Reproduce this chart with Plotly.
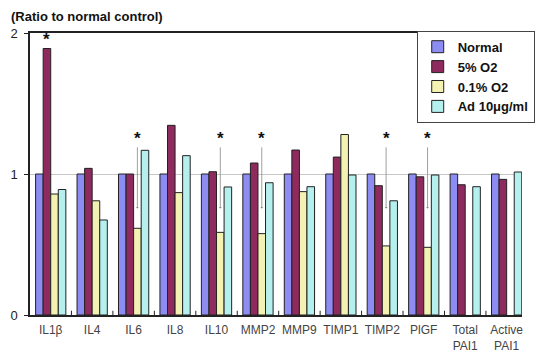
import plotly.graph_objects as go

categories = ["IL1β", "IL4", "IL6", "IL8", "IL10", "MMP2", "MMP9", "TIMP1",
              "TIMP2", "PlGF", "Total<br>PAI1", "Active<br>PAI1"]
normal = [1, 1, 1, 1, 1, 1, 1, 1, 1, 1, 1, 1]
o2_5 = [1.89, 1.04, 1.0, 1.345, 1.016, 1.078, 1.17, 1.12, 0.917, 0.98, 0.924, 0.962]
o2_01 = [0.858, 0.81, 0.615, 0.868, 0.586, 0.577, 0.875, 1.28, 0.49, 0.48, None, None]
ad10 = [0.89, 0.674, 1.168, 1.13, 0.908, 0.938, 0.91, 0.993, 0.81, 0.993, 0.91, 1.014]

series_names = ["Normal", "5% O2", "0.1% O2", "Ad 10μg/ml"]
series_vals = [normal, o2_5, o2_01, ad10]
colors = ["#8C8CF2", "#8E2A5E", "#F3F2B2", "#B6F0EE"]

sig_5 = ["IL1β"]
sig_01 = ["IL6", "IL10", "MMP2", "TIMP2", "PlGF"]

bargap = 0.27
bw = (1 - bargap) / 4

fig = go.Figure()
for name, vals, c in zip(series_names, series_vals, colors):
    fig.add_trace(go.Bar(
        x=list(range(len(categories))), y=vals, name=name,
        marker=dict(color=c, line=dict(color="#222222", width=1)),
    ))

annotations = [dict(
    text="<b>(Ratio to normal control)</b>", xref="paper", yref="paper",
    x=-0.043, y=1.06, xanchor="left", yanchor="middle", showarrow=False,
    font=dict(size=13, color="#111", family="Arial"))]

for cat in sig_5:
    i = categories.index(cat)
    annotations.append(dict(text="<b>*</b>", x=i - bw / 2, y=1.955, xref="x", yref="y",
                            showarrow=False, font=dict(size=17, color="#111", family="Arial")))
for cat in sig_01:
    i = categories.index(cat)
    xi = i + bw / 2
    annotations.append(dict(text="<b>*</b>", x=xi, y=1.255, xref="x", yref="y",
                            showarrow=False, font=dict(size=17, color="#111", family="Arial")))
    annotations.append(dict(text="", x=xi, y=0.755, ax=xi, ay=1.2, xref="x", yref="y",
                            axref="x", ayref="y", showarrow=True, arrowhead=1,
                            arrowsize=0.6, arrowwidth=0.8, arrowcolor="#888"))

fig.update_layout(
    width=535, height=352,
    margin=dict(l=30, r=0, t=33, b=37),
    paper_bgcolor="white", plot_bgcolor="white",
    barmode="group", bargap=bargap, bargroupgap=0,
    font=dict(family="Arial", color="#333"),
    showlegend=True,
    legend=dict(x=0.786, y=1.008, xanchor="left", yanchor="top",
                bgcolor="white", bordercolor="#444", borderwidth=1,
                font=dict(size=13, color="#111", family="Arial", weight="bold"),
                itemwidth=30, tracegroupgap=0),
    annotations=annotations,
)
fig.update_xaxes(
    tickmode="array", tickvals=list(range(len(categories))), ticktext=categories,
    range=[-0.5, 11.37], showline=True, linecolor="#222", linewidth=1.5, mirror=True,
    ticks="", showgrid=False, tickfont=dict(size=12, color="#444"), ticklabelstandoff=3,
)
# boundary ticks
for k in range(1, len(categories)):
    fig.add_shape(type="line", xref="x", yref="y", x0=k - 0.5, x1=k - 0.5, y0=0, y1=0.03,
                  line=dict(color="#222", width=1))
fig.update_yaxes(
    range=[0, 2], tickvals=[0, 1, 2], showline=True, linecolor="#222", linewidth=1.5,
    ticks="outside", ticklen=4, tickcolor="#222", showgrid=True, gridcolor="#c8c8c8",
    zeroline=False, tickfont=dict(size=13, color="#222"), ticklabelstandoff=4,
)
fig.write_html("out.html", config={"displayModeBar": False},
               post_script="document.body.style.margin='0';")
